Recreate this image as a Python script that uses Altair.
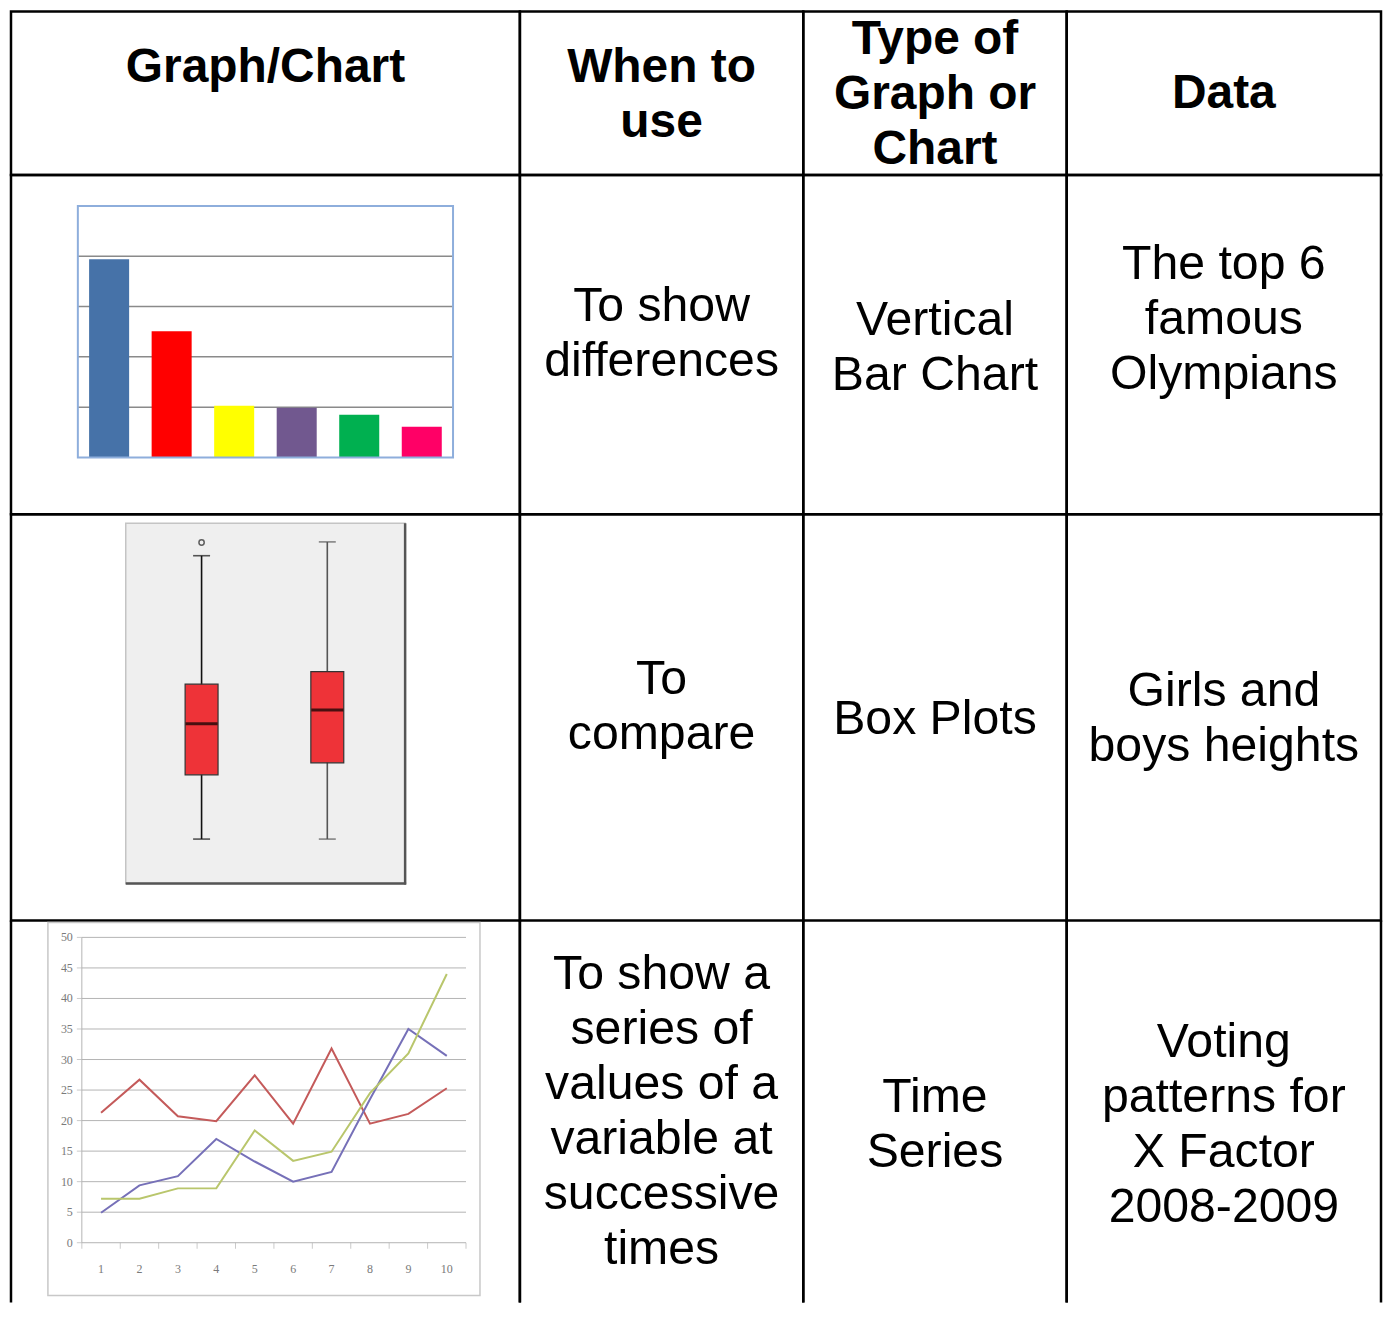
import altair as alt
import pandas as pd

# ---------------- data ----------------
header_lines = [["Graph/Chart"], ["When to", "use"], ["Type of", "Graph or", "Chart"], ["Data"]]
when_to_use = [["To show", "differences"], ["To", "compare"],
               ["To show a", "series of", "values of a", "variable at", "successive", "times"]]
chart_types = [["Vertical", "Bar Chart"], ["Box Plots"], ["Time", "Series"]]
data_desc = [["The top 6", "famous", "Olympians"], ["Girls and", "boys heights"],
             ["Voting", "patterns for", "X Factor", "2008-2009"]]

bar_names = ["Olympian 1", "Olympian 2", "Olympian 3", "Olympian 4", "Olympian 5", "Olympian 6"]
bar_values = [3.94, 2.51, 1.03, 0.99, 0.85, 0.61]
bar_colors = ["#4672a8", "#ff0000", "#ffff00", "#71588f", "#00b050", "#ff0066"]
bar_grid = [1, 2, 3, 4]

box_groups = ["Girls", "Boys"]
box_pos = [1, 2]
box_lower = [137.4, 137.4]
box_q1 = [148.1, 150.1]
box_median = [156.6, 158.9]
box_q3 = [163.2, 165.3]
box_upper = [184.6, 186.9]
box_whisker_colors = ["#111111", "#555555"]
outlier_pos = [1]
outlier_values = [186.8]

ts_x = list(range(1, 11))
ts_red = [21.3, 26.7, 20.7, 19.9, 27.4, 19.5, 31.8, 19.5, 21.1, 25.3]
ts_blue = [4.9, 9.4, 10.9, 17.0, 13.3, 10.0, 11.6, 23.5, 35.0, 30.6]
ts_green = [7.2, 7.2, 8.9, 8.9, 18.4, 13.4, 14.9, 24.5, 31.0, 44.0]
ts_series = ["Series A", "Series B", "Series C"]
ts_colors = ["#c45a5a", "#7670b8", "#b9c66c"]
ts_yticks = [0, 5, 10, 15, 20, 25, 30, 35, 40, 45, 50]
ts_xbounds = [0.5, 1.5, 2.5, 3.5, 4.5, 5.5, 6.5, 7.5, 8.5, 9.5, 10.5]

# ---------------- layout ----------------
FONT = "Liberation Sans"
col_w = [510, 284, 264, 315]
row_h = [164, 340, 407, 383]
BORDER = 2.5


def side_borders(w, h):
    return [
        alt.Chart().mark_rule(color="black", strokeWidth=BORDER).encode(
            x=alt.value(0), y=alt.value(0), y2=alt.value(h)),
        alt.Chart().mark_rule(color="black", strokeWidth=BORDER).encode(
            x=alt.value(w), y=alt.value(0), y2=alt.value(h)),
    ]


def text_cell(lines, w, h, y_first, bold=False, size=48.3, last=False):
    df = pd.DataFrame({"t": ["\n".join(lines)]})
    layers = [
        alt.Chart(df).mark_text(
            align="center", baseline="alphabetic", lineBreak="\n", lineHeight=55.2,
            font=FONT, fontSize=size, fontWeight="bold" if bold else "normal", color="black",
            clip=True,
        ).encode(text="t:N", x=alt.value(w / 2), y=alt.value(y_first))
    ]
    if last:
        layers += side_borders(w, h)
    ch = alt.layer(*layers).properties(width=w, height=h)
    if last:
        ch = ch.properties(view=alt.ViewBackground(stroke="transparent"))
    return ch


# ---- bar chart cell ----
def bar_cell(w, h):
    df = pd.DataFrame({"name": bar_names, "value": bar_values})
    gdf = pd.DataFrame({"v": bar_grid})
    yscale = alt.Scale(domain=[0, 5], range=[283, 31])
    grid = alt.Chart(gdf).mark_rule(color="#8a8a8a", strokeWidth=1.5).encode(
        y=alt.Y("v:Q", scale=yscale, axis=None), x=alt.value(67), x2=alt.value(443))
    bars = alt.Chart(df).mark_bar().encode(
        x=alt.X("name:N", sort=None, axis=None,
                scale=alt.Scale(range=[67, 443], paddingInner=0.36, paddingOuter=0.18)),
        y=alt.Y("value:Q", scale=yscale, axis=None),
        color=alt.Color("name:N", scale=alt.Scale(domain=bar_names, range=bar_colors), legend=None),
    )
    frame = alt.Chart().mark_rect(fillOpacity=0, stroke="#8eaedc", strokeWidth=2).encode(
        x=alt.value(67), x2=alt.value(443), y=alt.value(31), y2=alt.value(283))
    return alt.layer(grid, bars, frame).properties(width=w, height=h)


# ---- box plot cell ----
def box_cell(w, h):
    df = pd.DataFrame({"group": box_groups, "pos": box_pos, "lower": box_lower, "q1": box_q1,
                       "median": box_median, "q3": box_q3, "upper": box_upper,
                       "wc": box_whisker_colors})
    odf = pd.DataFrame({"pos": outlier_pos, "v": outlier_values})
    xs = alt.Scale(domain=[1, 2], range=[191, 317], padding=0, nice=False, zero=False)
    ys = alt.Scale(domain=[130, 190], range=[370, 9], nice=False, zero=False)
    bg = alt.Chart().mark_rect(fill="#efefef", stroke="#c4c4c4", strokeWidth=1.5).encode(
        x=alt.value(115), x2=alt.value(395), y=alt.value(9), y2=alt.value(370))
    shade_r = alt.Chart().mark_rule(color="#555555", strokeWidth=2.5).encode(
        x=alt.value(395), y=alt.value(9), y2=alt.value(371))
    shade_b = alt.Chart().mark_rule(color="#555555", strokeWidth=2.5).encode(
        x=alt.value(115), x2=alt.value(396), y=alt.value(370))
    whisk = alt.Chart(df).mark_rule(strokeWidth=1.6).encode(
        x=alt.X("pos:Q", scale=xs, axis=None),
        y=alt.Y("lower:Q", scale=ys, axis=None), y2="upper:Q",
        color=alt.Color("wc:N", scale=None))
    cap_lo = alt.Chart(df).mark_tick(orient="horizontal", size=17, thickness=1.6).encode(
        x=alt.X("pos:Q", scale=xs), y=alt.Y("lower:Q", scale=ys),
        color=alt.Color("wc:N", scale=None))
    cap_hi = alt.Chart(df).mark_tick(orient="horizontal", size=17, thickness=1.6).encode(
        x=alt.X("pos:Q", scale=xs), y=alt.Y("upper:Q", scale=ys),
        color=alt.Color("wc:N", scale=None))
    box = alt.Chart(df).mark_bar(size=33, fill="#ee3338", stroke="#333333", strokeWidth=1.2).encode(
        x=alt.X("pos:Q", scale=xs), y=alt.Y("q1:Q", scale=ys), y2="q3:Q")
    med = alt.Chart(df).mark_tick(orient="horizontal", size=32, thickness=3, color="black").encode(
        x=alt.X("pos:Q", scale=xs), y=alt.Y("median:Q", scale=ys))
    out = alt.Chart(odf).mark_point(shape="circle", size=28, filled=False, color="#222222",
                                    strokeWidth=1.5).encode(
        x=alt.X("pos:Q", scale=xs), y=alt.Y("v:Q", scale=ys))
    return alt.layer(bg, shade_r, shade_b, whisk, cap_lo, cap_hi, box, med, out).properties(
        width=w, height=h)


# ---- time series cell ----
def ts_cell(w, h):
    rows = []
    for name, vals in zip(ts_series, [ts_red, ts_blue, ts_green]):
        for x, v in zip(ts_x, vals):
            rows.append({"series": name, "x": x, "v": v})
    df = pd.DataFrame(rows)
    xs = alt.Scale(domain=[0.5, 10.5], range=[71, 456], padding=0, nice=False, zero=False)
    ys = alt.Scale(domain=[0, 50], range=[323, 17], nice=False)
    frame = alt.Chart().mark_rect(fill="white", stroke="#c8c8c8", strokeWidth=1.5).encode(
        x=alt.value(37), x2=alt.value(470), y=alt.value(2), y2=alt.value(376))
    gdf = pd.DataFrame({"v": ts_yticks, "x0": [0.5] * len(ts_yticks), "x1": [10.5] * len(ts_yticks)})
    grid = alt.Chart(gdf).mark_rule(color="#b4b4b4", strokeWidth=1).encode(
        x=alt.X("x0:Q", scale=xs, axis=None), x2="x1:Q",
        y=alt.Y("v:Q", scale=ys, axis=None))
    ytick = alt.Chart(gdf).mark_tick(orient="horizontal", size=5, thickness=1, color="#b4b4b4",
                                     xOffset=-2.5).encode(
        x=alt.X("x0:Q", scale=xs), y=alt.Y("v:Q", scale=ys))
    adf = pd.DataFrame({"x": [0.5], "y0": [0], "y1": [50]})
    yaxis = alt.Chart(adf).mark_rule(color="#b4b4b4", strokeWidth=1).encode(
        x=alt.X("x:Q", scale=xs), y=alt.Y("y0:Q", scale=ys), y2="y1:Q")
    xdf = pd.DataFrame({"x": ts_xbounds, "y": [0] * len(ts_xbounds)})
    xtick = alt.Chart(xdf).mark_tick(orient="vertical", size=6, thickness=1, color="#b4b4b4",
                                     yOffset=3).encode(
        x=alt.X("x:Q", scale=xs), y=alt.Y("y:Q", scale=ys))
    ylab = alt.Chart(gdf).mark_text(align="right", baseline="middle", dx=-9, font="Liberation Serif",
                                    fontSize=12, color="#7a7a7a").encode(
        x=alt.X("x0:Q", scale=xs), y=alt.Y("v:Q", scale=ys), text="v:Q")
    xldf = pd.DataFrame({"x": ts_x, "y": [0] * len(ts_x)})
    xlab = alt.Chart(xldf).mark_text(align="center", baseline="middle", dy=26, font="Liberation Serif",
                                     fontSize=12, color="#7a7a7a").encode(
        x=alt.X("x:Q", scale=xs), y=alt.Y("y:Q", scale=ys), text="x:Q")
    lines = alt.Chart(df).mark_line(strokeWidth=2).encode(
        x=alt.X("x:Q", scale=xs), y=alt.Y("v:Q", scale=ys),
        color=alt.Color("series:N", scale=alt.Scale(domain=ts_series, range=ts_colors), legend=None),
        detail="series:N")
    layers = [frame, grid, ytick, yaxis, xtick, ylab, xlab, lines] + side_borders(w, h)
    return alt.layer(*layers).properties(width=w, height=h,
                                          view=alt.ViewBackground(stroke="transparent"))


cells = [
    text_cell(header_lines[0], col_w[0], row_h[0], 70.3, bold=True, size=48),
    text_cell(header_lines[1], col_w[1], row_h[0], 70.3, bold=True, size=48),
    text_cell(header_lines[2], col_w[2], row_h[0], 42.3, bold=True, size=48),
    text_cell(header_lines[3], col_w[3], row_h[0], 97.3, bold=True, size=48),

    bar_cell(col_w[0], row_h[1]),
    text_cell(when_to_use[0], col_w[1], row_h[1], 146.5),
    text_cell(chart_types[0], col_w[2], row_h[1], 160.5),
    text_cell(data_desc[0], col_w[3], row_h[1], 104.5),

    box_cell(col_w[0], row_h[2]),
    text_cell(when_to_use[1], col_w[1], row_h[2], 180.5),
    text_cell(chart_types[1], col_w[2], row_h[2], 220.5),
    text_cell(data_desc[1], col_w[3], row_h[2], 192.5),

    ts_cell(col_w[0], row_h[3]),
    text_cell(when_to_use[2], col_w[1], row_h[3], 68.5, last=True),
    text_cell(chart_types[2], col_w[2], row_h[3], 191.5, last=True),
    text_cell(data_desc[2], col_w[3], row_h[3], 136.5, last=True),
]

chart = alt.concat(*cells, columns=4, spacing=0, bounds="flush").properties(
    padding=0,
    background="white",
).resolve_scale(
    color="independent", x="independent", y="independent"
).configure_view(stroke="black", strokeWidth=BORDER)

chart.save("out.html", embed_options={"renderer": "svg", "actions": False})
